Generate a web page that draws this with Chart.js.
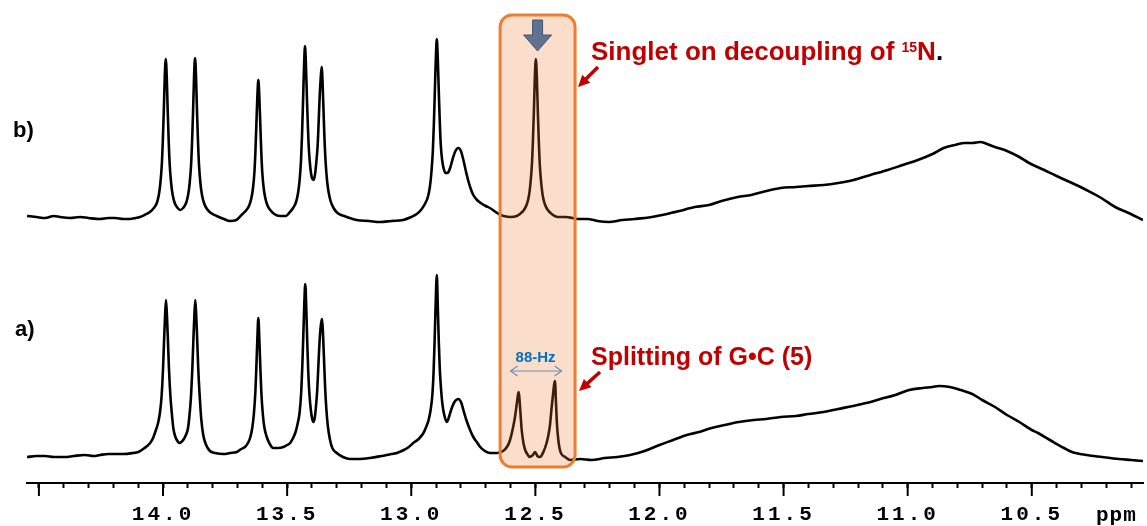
<!DOCTYPE html>
<html>
<head>
<meta charset="utf-8">
<script src="https://cdn.jsdelivr.net/npm/chart.js"></script>
<style>
  html, body { margin: 0; padding: 0; background: #fff; }
</style>
</head>
<body>
<canvas id="myChart" width="1147" height="526"></canvas>
<script>
//Spectrum: [chemical shift (ppm), intensity (arb. units)]
//b) 15N decoupled trace
const traceB = [
  [14.548, 1], [14.51, 0], [14.475, -1], [14.44, 1], [14.415, 0], [14.375, -1], [14.334, 0], [14.30, -1],
  [14.254, -2], [14.22, -1], [14.193, -1], [14.16, -2], [14.133, -2], [14.11, -1], [14.093, 0], [14.075, 2],
  [14.053, 5], [14.037, 9], [14.025, 14], [14.017, 22], [14.011, 33], [14.005, 52], [14.001, 75], [13.997, 105],
  [13.993, 140], [13.989, 158], [13.985, 140], [13.981, 105], [13.977, 75], [13.973, 52], [13.967, 33], [13.961, 22],
  [13.953, 14], [13.941, 9], [13.931, 7], [13.919, 9], [13.907, 14], [13.899, 22], [13.893, 33], [13.887, 52],
  [13.883, 75], [13.879, 105], [13.875, 140], [13.871, 159], [13.867, 140], [13.863, 105], [13.859, 75], [13.855, 52],
  [13.849, 33], [13.843, 22], [13.835, 14], [13.823, 8], [13.807, 4], [13.784, 1], [13.755, -2], [13.730, -4],
  [13.705, -3], [13.680, 3], [13.664, 7], [13.652, 12], [13.644, 19], [13.638, 28], [13.632, 44], [13.628, 64],
  [13.624, 92], [13.620, 120], [13.616, 137], [13.612, 120], [13.608, 92], [13.604, 64], [13.600, 44], [13.594, 28],
  [13.588, 19], [13.580, 12], [13.568, 7], [13.552, 3], [13.529, 1], [13.505, 1], [13.492, 4], [13.476, 9],
  [13.464, 15], [13.456, 24], [13.450, 36], [13.444, 57], [13.440, 82], [13.436, 115], [13.432, 150], [13.428, 171],
  [13.424, 150], [13.420, 117], [13.416, 88], [13.412, 66], [13.406, 48], [13.400, 39], [13.394, 37], [13.388, 42],
  [13.382, 56], [13.377, 72], [13.373, 95], [13.369, 120], [13.365, 138], [13.361, 150], [13.357, 133], [13.353, 103],
  [13.349, 75], [13.345, 55], [13.339, 36], [13.333, 25], [13.325, 16], [13.313, 9], [13.297, 4], [13.27, 1],
  [13.22, -3], [13.17, -4], [13.126, -5], [13.08, -4], [13.033, -3], [13.0, 0], [12.978, 3], [12.961, 7],
  [12.945, 13], [12.933, 20], [12.925, 30], [12.919, 44], [12.913, 66], [12.909, 92], [12.905, 125], [12.901, 158],
  [12.897, 178], [12.893, 158], [12.889, 125], [12.885, 95], [12.881, 72], [12.875, 56], [12.869, 48], [12.862, 44],
  [12.855, 44], [12.850, 45], [12.842, 50], [12.832, 59], [12.822, 66], [12.810, 69], [12.800, 66], [12.790, 57],
  [12.780, 46], [12.770, 36], [12.760, 28], [12.750, 22], [12.735, 17], [12.72, 14], [12.70, 11], [12.683, 9],
  [12.66, 5], [12.64, 2], [12.628, 1], [12.60, 0], [12.575, 1], [12.562, 3], [12.546, 7], [12.534, 13],
  [12.526, 21], [12.520, 33], [12.514, 52], [12.510, 75], [12.506, 105], [12.502, 140], [12.498, 158], [12.494, 140],
  [12.490, 105], [12.486, 75], [12.482, 52], [12.476, 33], [12.470, 21], [12.462, 13], [12.450, 7], [12.434, 3],
  [12.41, 0], [12.377, 0], [12.35, -1], [12.325, -2], [12.29, -2], [12.25, -4], [12.204, -5], [12.15, -3],
  [12.10, -2], [12.031, 0], [11.97, 3], [11.92, 6], [11.858, 10], [11.80, 12], [11.75, 16], [11.685, 20],
  [11.63, 22], [11.57, 26], [11.512, 29], [11.45, 30], [11.40, 31], [11.339, 32], [11.28, 34], [11.218, 37],
  [11.15, 42], [11.080, 47], [11.02, 52], [10.959, 57], [10.90, 63], [10.855, 69], [10.81, 72], [10.769, 74],
  [10.74, 74], [10.708, 75], [10.68, 73], [10.648, 70], [10.60, 66], [10.55, 60], [10.511, 54], [10.45, 47],
  [10.40, 41], [10.338, 34], [10.28, 27], [10.22, 19], [10.164, 10], [10.11, 4], [10.052, -3]
];

//a) coupled trace
const traceA = [
  [14.548, 0], [14.51, 1], [14.475, 1], [14.44, 0], [14.395, 0], [14.36, 1], [14.314, 2], [14.28, 1],
  [14.254, 2], [14.22, 3], [14.193, 3], [14.16, 3], [14.121, 4], [14.10, 5], [14.08, 8], [14.064, 11],
  [14.052, 14], [14.040, 19], [14.030, 26], [14.020, 34], [14.012, 45], [14.006, 60], [14.000, 88], [13.996, 115],
  [13.992, 140], [13.988, 157], [13.984, 140], [13.980, 115], [13.976, 88], [13.970, 60], [13.964, 42], [13.958, 28],
  [13.950, 20], [13.942, 16], [13.934, 14], [13.926, 15], [13.916, 18], [13.908, 22], [13.900, 28], [13.894, 40],
  [13.888, 58], [13.882, 88], [13.878, 115], [13.874, 140], [13.870, 157], [13.866, 140], [13.862, 115], [13.858, 88],
  [13.852, 60], [13.846, 38], [13.838, 22], [13.828, 13], [13.811, 6], [13.79, 4], [13.757, 3], [13.73, 4],
  [13.703, 5], [13.685, 8], [13.670, 10], [13.658, 14], [13.648, 20], [13.640, 30], [13.634, 43], [13.628, 65],
  [13.624, 90], [13.620, 118], [13.616, 139], [13.612, 118], [13.608, 90], [13.604, 65], [13.598, 43], [13.592, 30],
  [13.582, 20], [13.570, 13], [13.556, 9], [13.535, 9], [13.515, 10], [13.500, 12], [13.488, 14], [13.476, 19],
  [13.466, 25], [13.458, 33], [13.450, 44], [13.444, 62], [13.439, 90], [13.435, 120], [13.431, 152], [13.427, 173],
  [13.423, 150], [13.419, 115], [13.415, 86], [13.410, 62], [13.404, 46], [13.399, 38], [13.394, 35], [13.389, 39],
  [13.384, 50], [13.379, 66], [13.374, 92], [13.369, 117], [13.363, 134], [13.359, 138], [13.355, 120], [13.351, 95],
  [13.347, 70], [13.342, 48], [13.336, 31], [13.328, 18], [13.318, 9], [13.300, 4], [13.275, 0], [13.247, -2],
  [13.21, -2], [13.166, -1], [13.12, 1], [13.08, 3], [13.058, 4], [13.03, 7], [13.01, 10], [12.992, 14],
  [12.970, 18], [12.951, 24], [12.940, 30], [12.930, 37], [12.922, 47], [12.915, 62], [12.910, 85], [12.906, 115],
  [12.902, 150], [12.897, 182], [12.893, 150], [12.889, 115], [12.885, 88], [12.880, 68], [12.874, 52], [12.867, 42],
  [12.857, 35], [12.848, 40], [12.838, 48], [12.826, 55], [12.810, 58], [12.798, 54], [12.790, 47], [12.778, 37],
  [12.763, 27], [12.750, 20], [12.736, 15], [12.722, 10], [12.709, 7], [12.683, 4], [12.654, 4], [12.630, 6],
  [12.612, 11], [12.602, 17], [12.592, 27], [12.582, 40], [12.575, 53], [12.570, 62], [12.567, 65], [12.564, 58],
  [12.560, 44], [12.555, 27], [12.548, 14], [12.541, 7], [12.530, 2], [12.524, 0], [12.510, 2], [12.501, 5],
  [12.492, 1], [12.481, 0], [12.466, 6], [12.456, 13], [12.449, 20], [12.441, 32], [12.435, 48], [12.429, 62],
  [12.424, 73], [12.421, 76], [12.417, 55], [12.413, 33], [12.408, 18], [12.402, 8], [12.395, 3], [12.380, 0],
  [12.360, -3], [12.32, -2], [12.273, -3], [12.22, -1], [12.17, 0], [12.118, 2], [12.06, 6], [12.00, 12],
  [11.945, 17], [11.89, 22], [11.84, 25], [11.79, 29], [11.737, 32], [11.68, 35], [11.62, 37], [11.57, 38],
  [11.512, 40], [11.45, 41], [11.40, 43], [11.339, 45], [11.28, 48], [11.22, 51], [11.167, 54], [11.11, 58],
  [11.05, 62], [10.994, 67], [10.94, 69], [10.90, 70], [10.874, 71], [10.83, 70], [10.786, 67], [10.74, 63],
  [10.70, 57], [10.648, 50], [10.60, 42], [10.55, 35], [10.50, 27], [10.475, 24], [10.42, 16], [10.37, 9],
  [10.338, 5], [10.28, 2], [10.217, 0], [10.15, -2], [10.10, -3], [10.052, -4]
];

//Labelled ticks of the ppm axis
const tickLabels = ['14.0', '13.5', '13.0', '12.5', '12.0', '11.5', '11.0', '10.5'];
const traceNames = ['b)', 'a)'];

const toPoints = trace => trace.map(p => ({ x: p[0], y: p[1] }));

const monoFont = '"Liberation Mono", "DejaVu Sans Mono", monospace';
const sansFont = '"Liberation Sans", Arial, sans-serif';

//straight arrow with a filled head
function drawArrow(ctx, x1, y1, x2, y2, width, head, color) {
  const ang = Math.atan2(y2 - y1, x2 - x1);
  ctx.strokeStyle = color;
  ctx.fillStyle = color;
  ctx.lineWidth = width;
  ctx.beginPath();
  ctx.moveTo(x1, y1);
  ctx.lineTo(x2 - Math.cos(ang) * head * 0.7, y2 - Math.sin(ang) * head * 0.7);
  ctx.stroke();
  ctx.beginPath();
  ctx.moveTo(x2, y2);
  ctx.lineTo(x2 - head * Math.cos(ang - 0.45), y2 - head * Math.sin(ang - 0.45));
  ctx.lineTo(x2 - head * Math.cos(ang + 0.45), y2 - head * Math.sin(ang + 0.45));
  ctx.closePath();
  ctx.fill();
}

//open chevron head for the 88-Hz double arrow
function chevron(ctx, x, y, dir) {
  ctx.beginPath();
  ctx.moveTo(x + dir * 7, y - 5);
  ctx.lineTo(x, y);
  ctx.lineTo(x + dir * 7, y + 5);
  ctx.stroke();
}

const annotations = {
  id: 'annotations',
  beforeDraw(chart) {
    chart.ctx.letterSpacing = '3px'; //spaced out axis numbers
  },
  beforeDatasetsDraw(chart) {
    chart.ctx.letterSpacing = '0px';
  },
  afterDatasetsDraw(chart) {
    const ctx = chart.ctx;
    const x = chart.scales.x;
    ctx.save();
    ctx.letterSpacing = '0px';

    //highlight box round the 12.5 ppm signal
    const left = x.getPixelForValue(12.642);
    const right = x.getPixelForValue(12.340);
    ctx.beginPath();
    ctx.roundRect(left, 15, right - left, 452, 12);
    ctx.fillStyle = 'rgba(237,125,49,0.25)';
    ctx.fill();
    ctx.lineWidth = 3;
    ctx.strokeStyle = '#ED7D31';
    ctx.stroke();

    //grey down arrow
    const cx = (left + right) / 2;
    ctx.beginPath();
    ctx.moveTo(cx - 5, 20);
    ctx.lineTo(cx + 5, 20);
    ctx.lineTo(cx + 5, 35);
    ctx.lineTo(cx + 14, 35);
    ctx.lineTo(cx, 51);
    ctx.lineTo(cx - 14, 35);
    ctx.lineTo(cx - 5, 35);
    ctx.closePath();
    ctx.fillStyle = '#5f7292';
    ctx.fill();
    ctx.lineWidth = 1;
    ctx.strokeStyle = '#46556f';
    ctx.stroke();

    //88-Hz
    ctx.fillStyle = '#0070C0';
    ctx.font = 'bold 15px ' + sansFont;
    ctx.textAlign = 'center';
    ctx.textBaseline = 'alphabetic';
    ctx.fillText('88-Hz', cx - 2, 362);
    ctx.strokeStyle = '#6f8db5';
    ctx.lineWidth = 1.2;
    ctx.beginPath();
    ctx.moveTo(cx - 27, 371);
    ctx.lineTo(cx + 24, 371);
    ctx.stroke();
    chevron(ctx, cx - 27, 371, 1);
    chevron(ctx, cx + 24, 371, -1);

    //red notes
    ctx.textAlign = 'left';
    ctx.fillStyle = '#C00000';
    let tx = 591;
    ctx.font = 'bold 26px ' + sansFont;
    const t1 = 'Singlet on decoupling of ';
    ctx.fillText(t1, tx, 60);
    tx += ctx.measureText(t1).width;
    ctx.font = 'bold 14px ' + sansFont;
    ctx.fillText('15', tx, 52);
    tx += ctx.measureText('15').width;
    ctx.font = 'bold 26px ' + sansFont;
    ctx.fillText('N', tx, 60);
    tx += ctx.measureText('N').width;
    ctx.fillStyle = '#000';
    ctx.fillText('.', tx, 60);

    ctx.fillStyle = '#C00000';
    ctx.font = 'bold 25px ' + sansFont;
    ctx.fillText('Splitting of G\u2022C (5)', 591, 365);

    drawArrow(ctx, 598, 67, 578, 87, 3.5, 13, '#C00000');
    drawArrow(ctx, 600, 372, 579, 391, 3.5, 13, '#C00000');

    //trace names
    ctx.fillStyle = '#000';
    ctx.font = 'bold 22px ' + sansFont;
    ctx.fillText(traceNames[0], 13, 137);
    ctx.fillText(traceNames[1], 15, 336);
    ctx.restore();
  },
  afterDraw(chart) {
    const ctx = chart.ctx;
    const x = chart.scales.x;
    ctx.save();
    //longer ticks every 0.5 ppm
    ctx.strokeStyle = '#000';
    ctx.lineWidth = 2;
    x.ticks.forEach(t => {
      if (Math.abs(t.value * 2 - Math.round(t.value * 2)) < 1e-6) {
        const px = x.getPixelForValue(t.value);
        ctx.beginPath();
        ctx.moveTo(px, x.top);
        ctx.lineTo(px, x.top + 13);
        ctx.stroke();
      }
    });
    //unit
    ctx.letterSpacing = '1px';
    ctx.fillStyle = '#000';
    ctx.font = 'bold 21px ' + monoFont;
    ctx.textAlign = 'left';
    ctx.textBaseline = 'alphabetic';
    ctx.fillText('ppm', 1096, 521);
    ctx.restore();
  }
};

const lineStyle = {
  borderColor: '#000',
  borderWidth: 2.6,
  pointRadius: 0,
  cubicInterpolationMode: 'monotone',
  fill: false
};

const config = {
  type: 'line',
  data: {
    datasets: [
      Object.assign({ label: traceNames[0], data: toPoints(traceB), yAxisID: 'yB' }, lineStyle),
      Object.assign({ label: traceNames[1], data: toPoints(traceA), yAxisID: 'yA' }, lineStyle)
    ]
  },
  options: {
    responsive: false,
    animation: false,
    layout: { padding: { left: 27, right: 4, top: 0, bottom: 0 } },
    plugins: {
      legend: { display: false },
      tooltip: { enabled: false }
    },
    scales: {
      x: {
        type: 'linear',
        reverse: true,
        min: 10.052,
        max: 14.548,
        afterFit: s => { s.height = 43; },
        border: { display: true, color: '#000', width: 2 },
        grid: { drawOnChartArea: false, drawTicks: true, tickLength: 5, tickWidth: 2, tickColor: '#000' },
        ticks: {
          stepSize: 0.1,
          includeBounds: false,
          autoSkip: false,
          maxRotation: 0,
          padding: 14,
          color: '#000',
          font: { family: monoFont, weight: 'bold', size: 21 },
          callback: v => {
            const s = Number(v).toFixed(1);
            return tickLabels.includes(s) ? s : '';
          }
        }
      },
      yA: { display: false, min: -26, max: 457 },
      yB: { display: false, min: -266, max: 217 }
    }
  },
  plugins: [annotations]
};

const myChart = new Chart(document.getElementById('myChart'), config);
</script>
</body>
</html>
